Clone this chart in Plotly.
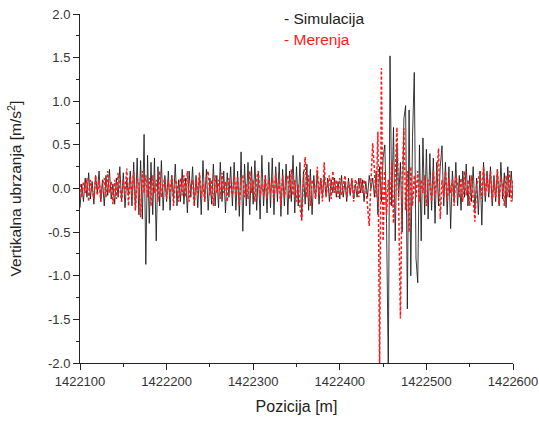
import plotly.graph_objects as go

x_start = 1422100
step = 2

simulacija = [
    -0.22, 0.05, -0.15, 0.12, -0.10, 0.18, -0.12, 0.08, -0.18, 0.15,
    -0.05, 0.20, -0.15, 0.10, -0.20, 0.15, -0.08, 0.22, -0.12, 0.05,
    -0.18, 0.12, -0.10, 0.25, -0.15, 0.18, -0.22, 0.10, -0.08, 0.20,
    -0.20, 0.30, -0.25, 0.35, -0.30, 0.32, -0.35, 0.62, -0.87, 0.38,
    -0.40, 0.30, -0.30, 0.35, -0.60, 0.25, -0.20, 0.32, -0.25, 0.15,
    -0.15, 0.20, -0.25, 0.15, -0.12, 0.28, -0.20, 0.10, -0.15, 0.22,
    -0.18, 0.12, -0.28, 0.20, -0.10, 0.25, -0.20, 0.15, -0.22, 0.18,
    -0.30, 0.32, -0.15, 0.22, -0.25, 0.12, -0.18, 0.28, -0.20, 0.15,
    -0.22, 0.30, -0.15, 0.20, -0.28, 0.18, -0.10, 0.25, -0.20, 0.30,
    -0.25, 0.20, -0.32, 0.42, -0.49, 0.28, -0.20, 0.30, -0.30, 0.25,
    -0.18, 0.32, -0.25, 0.20, -0.35, 0.38, -0.20, 0.15, -0.28, 0.30,
    -0.22, 0.35, -0.30, 0.25, -0.15, 0.30, -0.32, 0.22, -0.20, 0.28,
    -0.30, 0.20, -0.15, 0.38, -0.28, 0.25, -0.20, 0.30, -0.35, 0.20,
    -0.18, 0.28, -0.25, 0.22, -0.30, 0.15, -0.12, 0.20, -0.18, 0.12,
    -0.10, 0.15, -0.08, 0.12, -0.15, 0.10, -0.05, 0.12, -0.10, 0.08,
    -0.12, 0.15, -0.10, 0.08, -0.15, 0.12, -0.08, 0.10, -0.12, 0.05,
    -0.10, 0.12, -0.05, 0.10, -0.15, 0.08, -0.10, 0.15, 0.00, 0.12,
    -0.10, 0.20, -0.30, 0.25, -0.15, 0.35, 0.50, -0.40, -2.10, 1.52,
    -0.20, 0.70, -0.60, 0.50, -0.10, 0.30, -0.50, 0.80, 0.95, -1.38,
    0.90, -1.00, 0.60, 1.33, -0.80, -1.08, 0.50, -0.60, 0.58, -0.30,
    0.45, -0.35, 0.40, -0.25, 0.35, -0.40, 0.30, -0.20, 0.25, 0.49,
    -0.20, 0.30, -0.30, 0.25, -0.46, 0.20, -0.15, 0.30, -0.20, 0.15,
    -0.25, 0.20, -0.10, 0.28, -0.20, 0.15, -0.15, 0.25, -0.25, 0.12,
    -0.30, 0.20, -0.42, 0.30, -0.15, 0.20, -0.10, 0.25, -0.20, 0.15,
    -0.15, 0.22, -0.20, 0.30, -0.12, 0.18, -0.22, 0.25, -0.10, 0.20,
    -0.15,
]

merenja = [
    0.05, -0.10, 0.08, -0.05, 0.12, -0.15, 0.10, 0.00, -0.12, 0.15,
    -0.08, 0.10, -0.15, 0.05, 0.12, -0.10, 0.20, -0.05, 0.08, -0.18,
    0.10, -0.12, 0.18, 0.00, -0.15, 0.10, -0.05, 0.23, -0.20, 0.15,
    -0.10, 0.18, -0.25, 0.12, 0.05, -0.33, 0.20, -0.05, 0.15, -0.10,
    0.12, -0.20, 0.15, -0.05, 0.10, -0.15, 0.20, -0.10, 0.05, 0.12,
    -0.12, 0.08, -0.05, 0.15, -0.20, 0.10, 0.05, -0.15, 0.12, -0.08,
    0.15, -0.10, 0.20, -0.15, 0.05, 0.10, -0.20, 0.12, -0.05, 0.18,
    -0.10, 0.05, -0.15, 0.12, 0.20, -0.08, 0.10, -0.20, 0.15, -0.05,
    0.10, -0.12, 0.18, -0.05, 0.08, -0.15, 0.12, 0.02, -0.10, 0.15,
    -0.08, 0.12, -0.20, 0.10, 0.15, -0.10, 0.05, -0.12, 0.20, -0.05,
    0.10, -0.15, 0.12, 0.20, -0.10, 0.05, -0.08, 0.15, -0.12, 0.10,
    -0.05, 0.12, -0.15, 0.18, -0.05, 0.10, -0.20, 0.15, -0.10, 0.08,
    0.15, -0.12, 0.22, -0.08, 0.10, -0.15, 0.05, -0.20, -0.37, 0.10,
    0.36, -0.10, 0.15, -0.20, 0.10, 0.05, -0.12, 0.25, -0.08, 0.12,
    -0.15, 0.30, -0.10, 0.05, 0.15, -0.12, 0.20, -0.05, 0.10, -0.10,
    0.12, -0.08, 0.05, 0.15, -0.10, 0.08, -0.05, 0.12, -0.15, 0.10,
    0.05, -0.10, 0.12, -0.05, 0.10, 0.02, -0.20, -0.43, 0.10, 0.52,
    0.20, -0.10, 0.65, -2.10, 1.38, -0.60, 0.20, -0.30, 0.10, -0.20,
    0.30, -0.40, 0.15, 0.70, -0.20, -1.49, 0.10, 0.69, -0.25, 0.20,
    -0.50, 0.25, -0.20, 0.15, -0.10, 0.20, -0.15, 0.10, -0.05, 0.15,
    -0.20, 0.10, 0.05, -0.15, 0.20, -0.10, 0.15, 0.46, -0.35, 0.10,
    -0.10, 0.20, -0.15, 0.12, -0.05, 0.10, -0.20, 0.15, 0.05, -0.10,
    0.12, -0.15, 0.20, -0.08, 0.10, -0.20, 0.15, -0.10, -0.38, 0.05,
    0.10, 0.20, -0.12, 0.25, -0.10, 0.15, -0.05, 0.20, -0.15, 0.10,
    -0.10, 0.22, -0.18, 0.12, 0.05, -0.20, 0.15, -0.10, 0.20, -0.15,
    0.10,
]

x_sim = [x_start + step * i for i in range(len(simulacija))]
x_mer = [x_start + step * i for i in range(len(merenja))]

x_ticks = [1422100, 1422200, 1422300, 1422400, 1422500, 1422600]
y_ticks = [-2.0, -1.5, -1.0, -0.5, 0.0, 0.5, 1.0, 1.5, 2.0]

font_family = "Liberation Sans, Arial, sans-serif"

fig = go.Figure()
fig.add_trace(go.Scatter(
    x=x_sim, y=simulacija, mode="lines", name="Simulacija",
    line=dict(color="rgba(25,25,25,0.85)", width=1),
))
fig.add_trace(go.Scatter(
    x=x_mer, y=merenja, mode="lines", name="Merenja",
    line=dict(color="#ff1a1a", width=1.5, dash="3px,2px"),
))

L, R, T, B = 80, 513, 14, 363
W, H = R - L, B - T

fig.add_annotation(xref="x domain", yref="y domain", x=(282 - L) / W, y=(B - 19) / H,
                   xanchor="left", yanchor="middle", text="- Simulacija", showarrow=False,
                   font=dict(family=font_family, size=15.5, color="#222"))
fig.add_annotation(xref="x domain", yref="y domain", x=(282 - L) / W, y=(B - 40) / H,
                   xanchor="left", yanchor="middle", text="- Merenja", showarrow=False,
                   font=dict(family=font_family, size=15.5, color="#ff1a1a"))

fig.update_layout(
    width=539, height=421,
    margin=dict(l=L, r=539 - R, t=T, b=421 - B),
    paper_bgcolor="white", plot_bgcolor="white",
    showlegend=False,
    font=dict(family=font_family, size=13, color="#333"),
    xaxis=dict(
        range=[1422100, 1422600], tickvals=x_ticks, ticktext=[str(v) for v in x_ticks],
        showgrid=False, zeroline=False, showline=True, linecolor="#222", linewidth=1,
        ticks="outside", ticklen=6, tickcolor="#222", automargin=False,
        minor=dict(ticks="outside", ticklen=3, dtick=50, tickcolor="#222"),
        title=dict(text="Pozicija [m]", font=dict(size=16, color="#222"), standoff=13),
        tickfont=dict(size=13, color="#333"),
    ),
    yaxis=dict(
        range=[-2.0, 2.0], tickvals=y_ticks, ticktext=["%.1f" % v for v in y_ticks],
        showgrid=False, zeroline=False, showline=True, linecolor="#222", linewidth=1,
        ticks="outside", ticklen=6, tickcolor="#222", automargin=False,
        minor=dict(ticks="outside", ticklen=3, dtick=0.25, tickcolor="#222"),
        title=dict(text="Vertikalna ubrzanja [m/s<sup>2</sup>]", font=dict(size=15.5, color="#222"), standoff=22),
        tickfont=dict(size=13, color="#333"),
    ),
)

fig.write_html("out.html")
